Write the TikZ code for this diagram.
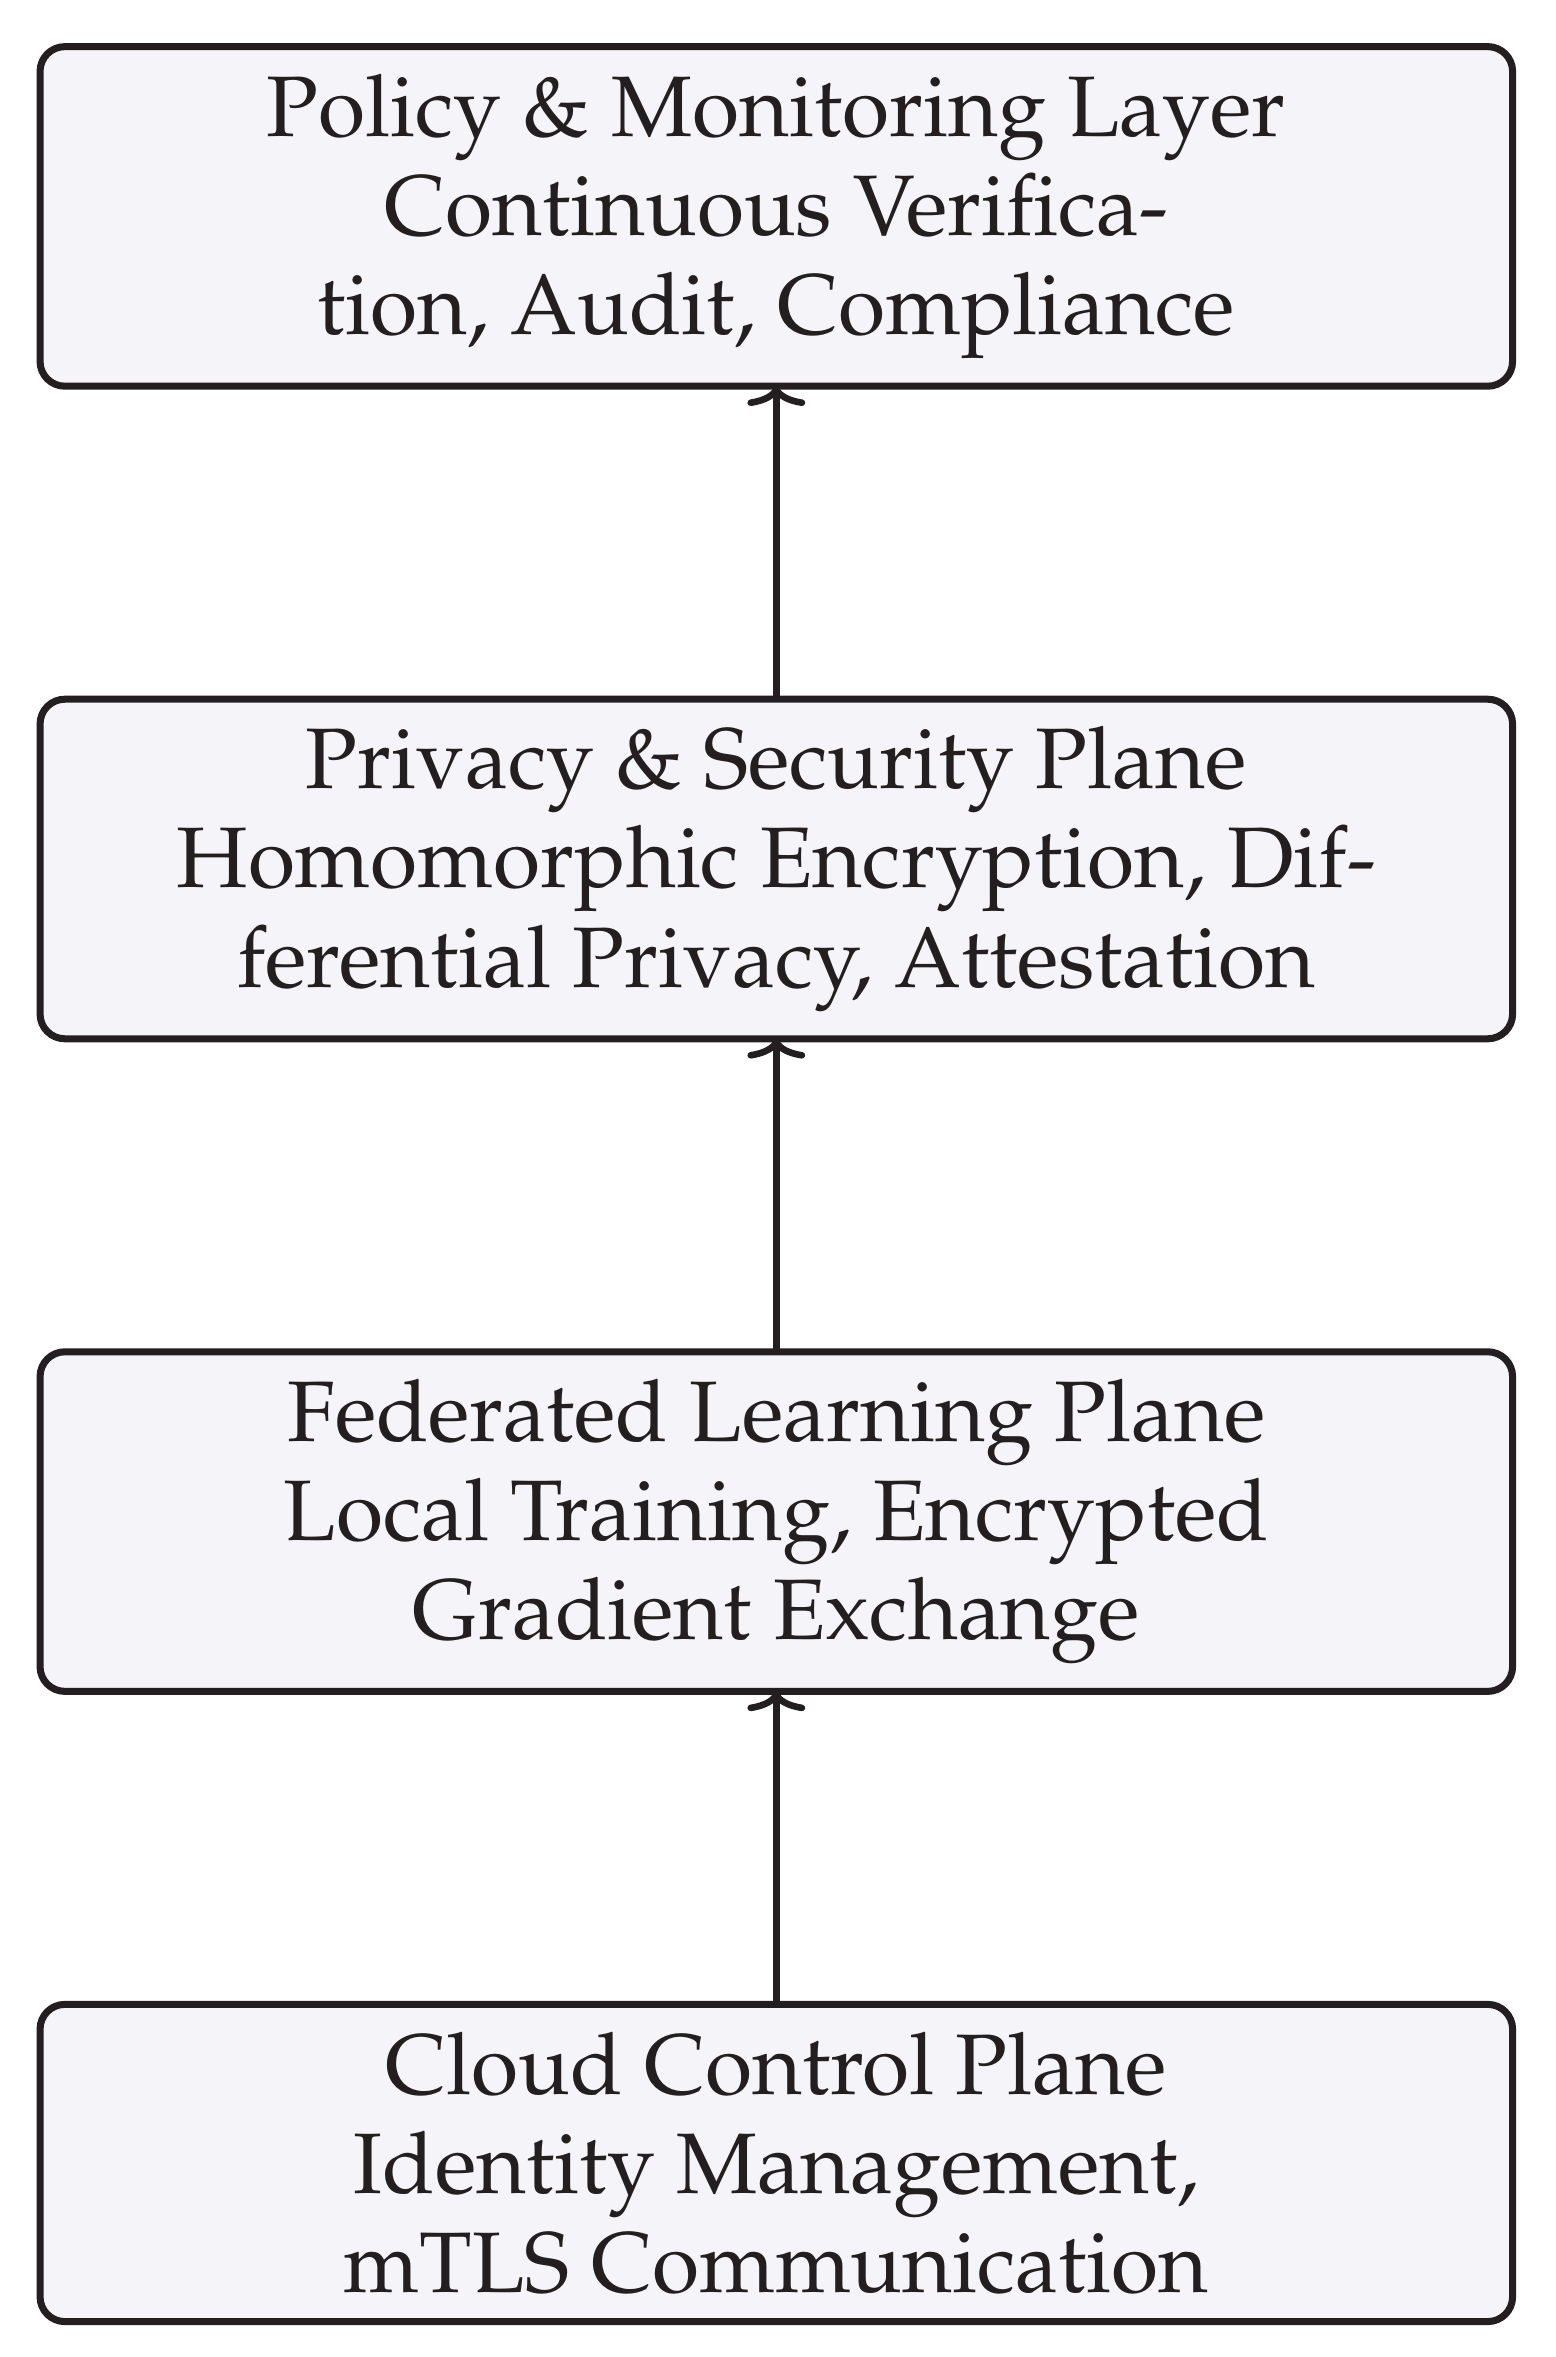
\documentclass[tikz,border=0pt]{standalone}
\usepackage[T1]{fontenc}
\usepackage{mathpazo}
\usepackage{tikz}
\usetikzlibrary{positioning,arrows.meta}
\definecolor{layerfill}{RGB}{244,244,249}
\definecolor{inkblack}{RGB}{35,31,32}
\tikzset{
  layerbox/.style={draw=inkblack, fill=layerfill, line width=0.85pt, rounded corners=3pt,
    minimum width=178.3pt, align=center, text=inkblack, inner sep=3.33pt, outer sep=0pt,
    font=\fontsize{10.4pt}{12pt}\selectfont},
  uparrow/.style={-{To[length=2.4pt,width=7pt]}, line width=0.8pt, draw=inkblack}
}

\begin{document}
\begin{tikzpicture}[node distance=37.9pt]
\useasboundingbox (0,0) rectangle (188.3pt,-285.4pt);

\node[layerbox, anchor=north] (policy) at (94pt,-5.65pt)
  {Policy \& Monitoring Layer\\Continuous Verifica-\\tion, Audit, Compliance};
\node[layerbox, below=of policy] (privacy)
  {Privacy \& Security Plane\\Homomorphic Encryption, Dif-\\ferential Privacy, Attestation};
\node[layerbox, below=of privacy] (fedlearn)
  {Federated Learning Plane\\Local Training, Encrypted\\Gradient Exchange};
\node[layerbox, below=of fedlearn] (cloud)
  {Cloud Control Plane\\Identity Management,\\mTLS Communication};

\draw[uparrow] (cloud) -- (fedlearn);
\draw[uparrow] (fedlearn) -- (privacy);
\draw[uparrow] (privacy) -- (policy);
\end{tikzpicture}
\end{document}
